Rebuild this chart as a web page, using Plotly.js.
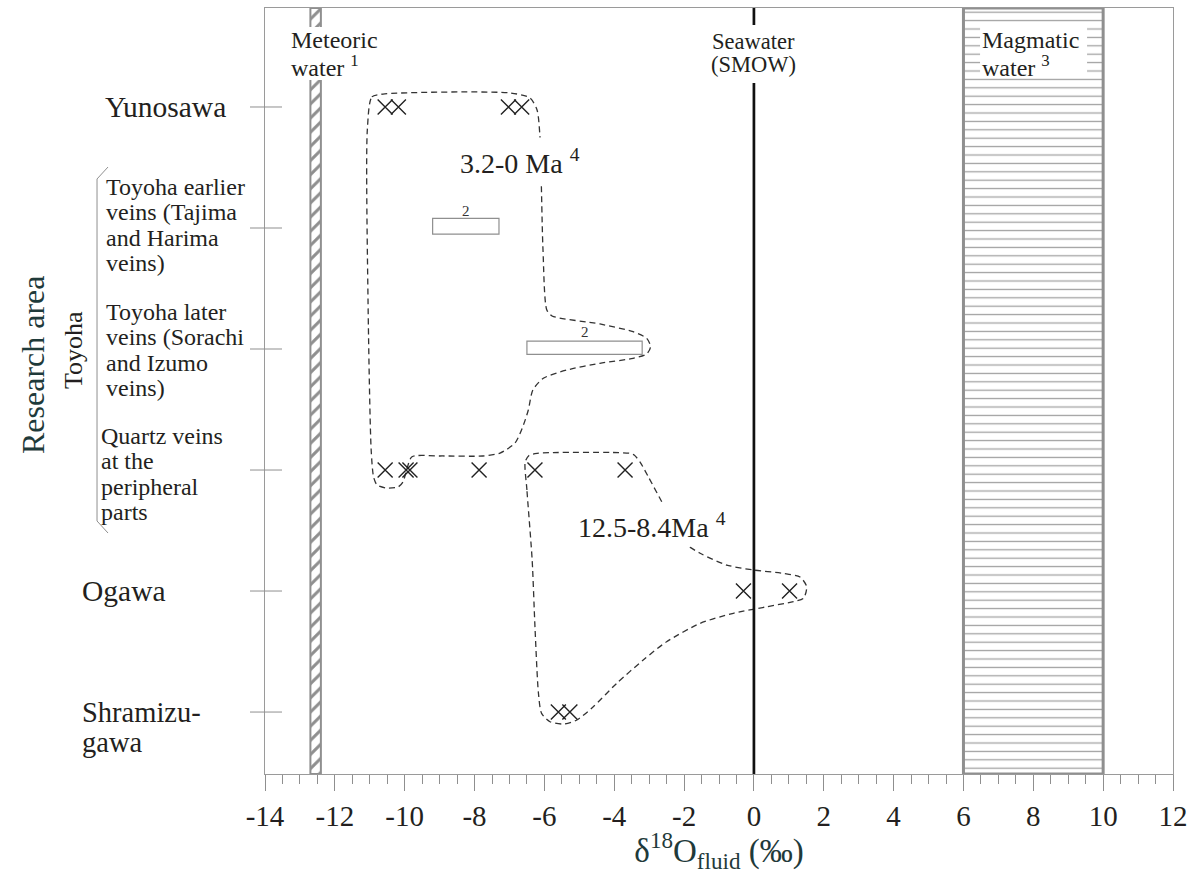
<!DOCTYPE html>
<html>
<head>
<meta charset="utf-8">
<script src="https://cdn.plot.ly/plotly-3.0.1.min.js"></script>
<style>html,body{margin:0;padding:0;background:#fff;}#chart{width:1198px;height:874px;}</style>
</head>
<body>
<div id="chart"></div>
<script>
// ---------- data ----------
const CATEGORY_POS = [0, 1, 2, 3, 4, 5];
const CATEGORY_LINES = [
  ['Yunosawa'],
  ['Toyoha earlier', 'veins (Tajima', 'and Harima', 'veins)'],
  ['Toyoha later', 'veins (Sorachi', 'and Izumo', 'veins)'],
  ['Quartz veins', 'at the', 'peripheral', 'parts'],
  ['Ogawa'],
  ['Shramizu-', 'gawa']
];
const X_TICKS = [-14, -12, -10, -8, -6, -4, -2, 0, 2, 4, 6, 8, 10, 12];
const X_TICK_TEXT = ['-14', '-12', '-10', '-8', '-6', '-4', '-2', '0', '2', '4', '6', '8', '10', '12'];

const YUNOSAWA_X = [-10.56, -10.18, -7.03, -6.65];
const QUARTZ_X = [-10.56, -9.96, -9.85, -7.87, -6.27, -3.69];
const OGAWA_X = [-0.30, 1.02];
const SHRAMIZU_X = [-5.60, -5.27];

const METEORIC_RANGE = [-12.7, -12.4];
const MAGMATIC_RANGE = [6, 10];
const SEAWATER_X = 0;
const REF_BOX_EARLIER = [-9.2, -7.3];
const REF_BOX_LATER = [-6.5, -3.2];

const ENV1_X = [-11.07, -10.94, -10.62, -6.98, -6.41, -6.21, -6.13, -6.04, -5.93, -5.78, -4.41, -3.46, -3.07, -2.96, -3.07, -3.46, -4.41, -5.36, -6.03, -6.33, -6.46, -6.60, -6.84, -7.27, -7.76, -8.99, -9.79, -9.93, -10.05, -10.19, -10.51, -10.79, -10.89, -10.96, -11.05, -11.07];
const ENV1_Y = [0.19, -0.083, -0.107, -0.116, -0.074, 0.025, 0.231, 1.18, 1.678, 1.727, 1.793, 1.857, 1.912, 1.981, 2.041, 2.077, 2.118, 2.174, 2.242, 2.339, 2.504, 2.628, 2.777, 2.860, 2.884, 2.884, 2.890, 2.983, 3.099, 3.140, 3.149, 3.124, 3.058, 2.835, 1.595, 0.19];
const ENV2_X = [-6.35, -6.50, -6.55, -6.44, -6.21, -3.55, -3.43, -3.26, -3.02, -2.64, -2.02, -1.54, -0.78, -0.02, 0.84, 1.32, 1.51, 1.42, 1.13, 0.37, -0.59, -1.54, -2.50, -3.17, -3.93, -4.60, -5.07, -5.46, -5.84, -6.08, -6.17, -6.27, -6.35];
const ENV2_Y = [3.744, 3.165, 2.934, 2.880, 2.862, 2.862, 2.876, 2.934, 3.058, 3.262, 3.593, 3.688, 3.785, 3.826, 3.854, 3.884, 3.964, 4.060, 4.088, 4.130, 4.184, 4.267, 4.419, 4.570, 4.763, 4.956, 5.066, 5.099, 5.080, 5.011, 4.845, 4.295, 3.744];

// ---------- layout constants ----------
const X_RANGE = [-14, 12];
const Y_RANGE = [5.512, -0.818]; // reversed
const FONT = 'Liberation Serif, Times New Roman, serif';
const TEAL = '#1f3a3a';
const GRAY = '#8f8f8f';
const INK = '#231f20';
const PLOT_W = 908;

function rep(arr, v) { return arr.map(() => v); }

const markerStyle = {symbol: 'x-thin', size: 15, color: '#222', line: {color: '#222', width: 1.4}};

const traces = [
  { // meteoric water band
    type: 'bar', x: [(METEORIC_RANGE[0] + METEORIC_RANGE[1]) / 2], width: [METEORIC_RANGE[1] - METEORIC_RANGE[0]],
    base: [Y_RANGE[0]], y: [Y_RANGE[1] - Y_RANGE[0]],
    marker: {color: 'white', line: {color: GRAY, width: 2},
      pattern: {shape: '/', fgcolor: GRAY, bgcolor: 'white', size: 10, solidity: 0.3, fillmode: 'replace'}},
    hoverinfo: 'skip', showlegend: false
  },
  { // magmatic water band
    type: 'bar', x: [(MAGMATIC_RANGE[0] + MAGMATIC_RANGE[1]) / 2], width: [MAGMATIC_RANGE[1] - MAGMATIC_RANGE[0]],
    base: [Y_RANGE[0]], y: [Y_RANGE[1] - Y_RANGE[0]],
    marker: {color: 'white', line: {color: GRAY, width: 3},
      pattern: {shape: '-', fgcolor: '#a0a0a0', bgcolor: 'white', size: 8.4, solidity: 0.15, fillmode: 'replace'}},
    hoverinfo: 'skip', showlegend: false
  },
  {type: 'scatter', mode: 'lines', x: ENV1_X, y: ENV1_Y,
   line: {color: '#333', width: 1.3, dash: '6px,4px', shape: 'spline', smoothing: 0.7}, hoverinfo: 'skip', showlegend: false},
  {type: 'scatter', mode: 'lines', x: ENV2_X, y: ENV2_Y,
   line: {color: '#333', width: 1.3, dash: '6px,4px', shape: 'spline', smoothing: 0.7}, hoverinfo: 'skip', showlegend: false},
  {type: 'scatter', mode: 'markers', x: YUNOSAWA_X, y: rep(YUNOSAWA_X, CATEGORY_POS[0]), marker: markerStyle, showlegend: false},
  {type: 'scatter', mode: 'markers', x: QUARTZ_X, y: rep(QUARTZ_X, CATEGORY_POS[3]), marker: markerStyle, showlegend: false},
  {type: 'scatter', mode: 'markers', x: OGAWA_X, y: rep(OGAWA_X, CATEGORY_POS[4]), marker: markerStyle, showlegend: false},
  {type: 'scatter', mode: 'markers', x: SHRAMIZU_X, y: rep(SHRAMIZU_X, CATEGORY_POS[5]), marker: markerStyle, showlegend: false}
];

// ---------- shapes ----------
const BOX_HALF = 0.065;
function pxToY(py) { return (py - 107) / 121; }
function pxToX(px) { return (px - 265) / 34.92 - 14; }
const shapes = [
  {type: 'line', xref: 'x', yref: 'paper', x0: SEAWATER_X, x1: SEAWATER_X, y0: 0, y1: 1, line: {color: '#111', width: 2.7}},
  // white backgrounds behind the in-plot labels at the top
  {type: 'rect', xref: 'x', yref: 'y', x0: pxToX(300), x1: pxToX(330), y0: pxToY(27), y1: pxToY(80), fillcolor: 'white', line: {width: 0}},
  {type: 'rect', xref: 'x', yref: 'y', x0: pxToX(745), x1: pxToX(764), y0: pxToY(25), y1: pxToY(83), fillcolor: 'white', line: {width: 0}},
  {type: 'rect', xref: 'x', yref: 'y', x0: pxToX(980), x1: pxToX(1087), y0: pxToY(27), y1: pxToY(76), fillcolor: 'white', line: {width: 0}},
  {type: 'rect', xref: 'x', yref: 'y', x0: REF_BOX_EARLIER[0], x1: REF_BOX_EARLIER[1],
   y0: CATEGORY_POS[1] - BOX_HALF - 0.015, y1: CATEGORY_POS[1] + BOX_HALF - 0.015, fillcolor: 'white', line: {color: GRAY, width: 1.2}},
  {type: 'rect', xref: 'x', yref: 'y', x0: REF_BOX_LATER[0], x1: REF_BOX_LATER[1],
   y0: CATEGORY_POS[2] - BOX_HALF, y1: CATEGORY_POS[2] + BOX_HALF - 0.02, fillcolor: 'white', line: {color: GRAY, width: 1.2}},
  // Toyoha bracket
  {type: 'path', xref: 'paper', yref: 'paper',
   path: 'M -0.1729 0.7924 L -0.1850 0.7768 L -0.1850 0.3303 L -0.1729 0.3146', line: {color: GRAY, width: 1}}
];
// category tick marks crossing the y axis (15 px outside, 17 px inside)
CATEGORY_POS.forEach(c => {
  shapes.push({type: 'line', xref: 'paper', yref: 'y', x0: -15 / PLOT_W, x1: 17 / PLOT_W, y0: c, y1: c,
    line: {color: GRAY, width: 1}});
});

// ---------- annotations ----------
const annotations = [];
function pxToPaperX(px) { return (px - 265) / PLOT_W; }

const CAT_STYLE = [
  {px: 103, size: 29.5, gap: 30, offset: 0},
  {px: 104, size: 24, gap: 25.5, offset: -3},
  {px: 104, size: 24, gap: 25.5, offset: 1},
  {px: 99, size: 24, gap: 25.5, offset: 4},
  {px: 80, size: 29.5, gap: 30, offset: 0},
  {px: 80, size: 28.5, gap: 30, offset: 15}
];
CATEGORY_LINES.forEach((lines, i) => {
  const st = CAT_STYLE[i];
  const n = lines.length;
  lines.forEach((ln, j) => {
    annotations.push({
      xref: 'paper', yref: 'y', x: pxToPaperX(st.px), y: CATEGORY_POS[i],
      xanchor: 'left', yanchor: 'middle', showarrow: false, align: 'left',
      yshift: -(st.offset + (j - (n - 1) / 2) * st.gap),
      text: ln, font: {family: FONT, size: st.size, color: INK}
    });
  });
});

function labelLines(lines, x, y, xanchor, gap, size, align) {
  lines.forEach((ln, j) => {
    annotations.push({
      xref: 'x', yref: 'y', x: x, y: y, xanchor: xanchor, yanchor: 'middle', showarrow: false,
      align: align, borderpad: 0,
      yshift: -((j - (lines.length - 1) / 2) * gap),
      text: ln, font: {family: FONT, size: size, color: INK}
    });
  });
}
labelLines(['Meteoric', 'water <sup>1</sup>'], pxToX(290), pxToY(53), 'left', 26, 24, 'left');
labelLines(['Seawater', '(SMOW)'], SEAWATER_X, pxToY(53), 'center', 23, 22.5, 'center');
labelLines(['Magmatic', 'water <sup>3</sup>'], pxToX(981), pxToY(53), 'left', 26, 24, 'left');

annotations.push({xref: 'x', yref: 'y', x: pxToX(520), y: pxToY(162), showarrow: false, bgcolor: 'white', borderpad: 6,
  text: '3.2-0 Ma <sup>4</sup>', font: {family: FONT, size: 28, color: INK}});
annotations.push({xref: 'x', yref: 'y', x: pxToX(652), y: pxToY(525), showarrow: false, bgcolor: 'white', borderpad: 3,
  text: '12.5-8.4Ma <sup>4</sup>', font: {family: FONT, size: 28, color: INK}});

// "2" reference labels above boxes
[[REF_BOX_EARLIER, CATEGORY_POS[1]], [REF_BOX_LATER, CATEGORY_POS[2]]].forEach(([r, c]) => {
  annotations.push({xref: 'x', yref: 'y', x: (r[0] + r[1]) / 2, y: c, yshift: 17, showarrow: false,
    text: '2', font: {family: FONT, size: 15, color: '#333'}});
});

// Toyoha group label
annotations.push({xref: 'paper', yref: 'paper', x: pxToPaperX(73), y: (774 - 350) / 766, textangle: -90,
  xanchor: 'center', yanchor: 'middle',
  showarrow: false, text: 'Toyoha', font: {family: FONT, size: 26, color: INK}});
// Research area (y title)
annotations.push({xref: 'paper', yref: 'paper', x: pxToPaperX(33), y: (774 - 365) / 766, textangle: -90,
  xanchor: 'center', yanchor: 'middle',
  showarrow: false, text: 'Research area', font: {family: FONT, size: 32, color: TEAL}});

const layout = {
  width: 1198, height: 874,
  margin: {l: 265, r: 25, t: 8, b: 100, pad: 0},
  paper_bgcolor: 'white', plot_bgcolor: 'white',
  barmode: 'overlay', showlegend: false,
  font: {family: FONT, color: INK},
  xaxis: {
    range: X_RANGE, tickvals: X_TICKS, ticktext: X_TICK_TEXT,
    ticks: 'outside', ticklen: 16, tickwidth: 1, tickcolor: GRAY,
    minor: {dtick: 0.5, ticks: 'outside', ticklen: 9, tickwidth: 1, tickcolor: GRAY},
    showgrid: false, zeroline: false, showline: true, linecolor: '#9a9a9a', linewidth: 1, mirror: true,
    tickfont: {family: FONT, size: 29, color: INK},
    title: {text: 'δ<sup>18</sup>O<sub>fluid</sub> (‰)', font: {family: FONT, size: 33, color: TEAL}, standoff: 6},
    automargin: false, fixedrange: true
  },
  yaxis: {
    type: 'linear', range: Y_RANGE, ticks: '', showticklabels: false,
    showgrid: false, zeroline: false, showline: true, linecolor: '#9a9a9a', linewidth: 1, mirror: true,
    automargin: false, fixedrange: true
  },
  shapes: shapes,
  annotations: annotations
};

Plotly.newPlot('chart', traces, layout, {displayModeBar: false, staticPlot: true});
</script>
</body>
</html>
